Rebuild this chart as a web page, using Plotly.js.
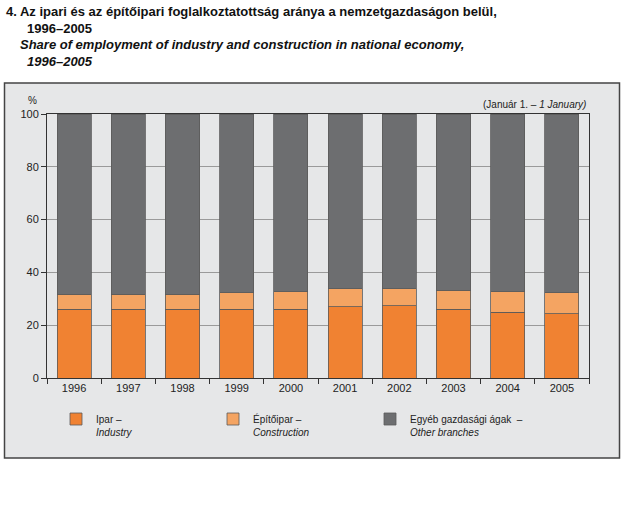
<!DOCTYPE html>
<html>
<head>
<meta charset="utf-8">
<script src="https://cdn.plot.ly/plotly-3.0.1.min.js"></script>
<style>html,body{margin:0;padding:0;background:#fff;}#chart{width:626px;height:520px;}</style>
</head>
<body>
<div id="chart"></div>
<script>
const years = ['1996','1997','1998','1999','2000','2001','2002','2003','2004','2005'];
const industry = [26.1, 26.1, 26.1, 26.1, 26.1, 26.9, 27.3, 26.1, 25.0, 24.4];
const construction = [5.6, 5.6, 5.7, 6.2, 6.6, 7.0, 6.6, 7.2, 7.7, 7.9];
const other = years.map((y, i) => +(100 - industry[i] - construction[i]).toFixed(1));
const seriesNames = ['Ipar –<br><i>Industry</i>', 'Építőipar –<br><i>Construction</i>', 'Egyéb gazdasági ágak  –<br><i>Other branches</i>'];
const yTicks = [0, 20, 40, 60, 80, 100];

const W = 626, H = 520;
const L = 47, R = 589, T = 114, B = 378;
const px = x => (x - L) / (R - L);
const py = y => (B - y) / (B - T);

const lineStyle = {color: '#5a5a5a', width: 0.8};
const traces = [
  {type: 'bar', x: years, y: industry, name: seriesNames[0], marker: {color: '#f08232', line: lineStyle}},
  {type: 'bar', x: years, y: construction, name: seriesNames[1], marker: {color: '#f4a462', line: lineStyle}},
  {type: 'bar', x: years, y: other, name: seriesNames[2], marker: {color: '#6d6e70', line: lineStyle}}
];

const font = 'Liberation Sans, Arial, sans-serif';
const layout = {
  width: W, height: H,
  margin: {l: L, r: W - R, t: T, b: H - B, pad: 0},
  paper_bgcolor: '#ffffff',
  plot_bgcolor: '#e6e7e8',
  barmode: 'stack',
  bargap: 0.37,
  font: {family: font, size: 11, color: '#222'},
  showlegend: true,
  legend: {
    orientation: 'h', x: px(56), y: py(406), xanchor: 'left', yanchor: 'top',
    entrywidth: 112, entrywidthmode: 'pixels',
    font: {family: font, size: 10, color: '#222'},
    bgcolor: 'rgba(0,0,0,0)', traceorder: 'normal', valign: 'top'
  },
  xaxis: {
    type: 'category', showline: true, linecolor: '#333', linewidth: 1, mirror: true,
    ticks: 'outside', tickson: 'boundaries', ticklen: 5, tickcolor: '#333',
    showgrid: false, tickfont: {family: font, size: 11, color: '#222'}, fixedrange: true
  },
  yaxis: {
    range: [0, 100], tickvals: yTicks, ticktext: yTicks.map(String),
    showline: true, linecolor: '#333', linewidth: 1, mirror: true,
    ticks: 'outside', ticklen: 5, tickcolor: '#333',
    showgrid: true, gridcolor: '#9a9a9a', gridwidth: 1, zeroline: false,
    tickfont: {family: font, size: 11, color: '#222'}, fixedrange: true
  },
  shapes: [
    {type: 'rect', xref: 'paper', yref: 'paper', x0: px(4.5), x1: px(619.5), y0: py(458), y1: py(83),
     fillcolor: '#e6e7e8', line: {color: '#444', width: 1.5}, layer: 'below'}
  ],
  annotations: [
    {xref: 'paper', yref: 'paper', x: px(4), y: py(11), xanchor: 'left', yanchor: 'middle', showarrow: false,
     text: '<b>4. Az ipari és az építőipari foglalkoztatottság aránya a nemzetgazdaságon belül,</b>',
     font: {family: font, size: 13, color: '#111'}},
    {xref: 'paper', yref: 'paper', x: px(25), y: py(28), xanchor: 'left', yanchor: 'middle', showarrow: false,
     text: '<b>1996–2005</b>', font: {family: font, size: 13, color: '#111'}},
    {xref: 'paper', yref: 'paper', x: px(18), y: py(45), xanchor: 'left', yanchor: 'middle', showarrow: false,
     text: '<b><i>Share of employment of industry and construction in national economy,</i></b>',
     font: {family: font, size: 13, color: '#111'}},
    {xref: 'paper', yref: 'paper', x: px(25), y: py(62), xanchor: 'left', yanchor: 'middle', showarrow: false,
     text: '<b><i>1996–2005</i></b>', font: {family: font, size: 13, color: '#111'}},
    {xref: 'paper', yref: 'paper', x: px(26), y: py(100), xanchor: 'left', yanchor: 'middle', showarrow: false,
     text: '%', font: {family: font, size: 10, color: '#222'}},
    {xref: 'paper', yref: 'paper', x: px(588), y: py(104), xanchor: 'right', yanchor: 'middle', showarrow: false,
     text: '(Január 1. – <i>1 January)</i>', font: {family: font, size: 10, color: '#222'}}
  ]
};

Plotly.newPlot('chart', traces, layout, {displayModeBar: false, staticPlot: true});
</script>
</body>
</html>
